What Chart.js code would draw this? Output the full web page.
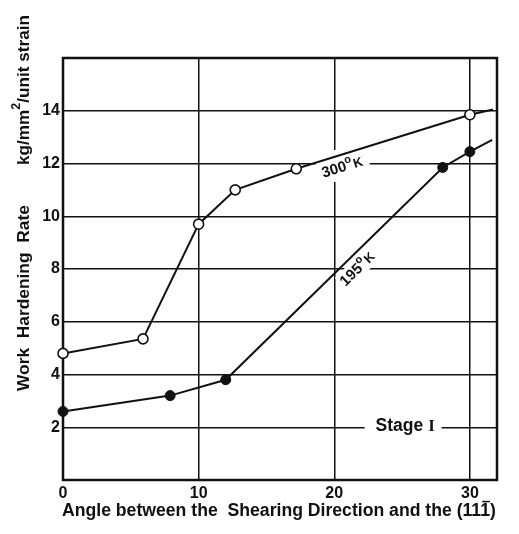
<!DOCTYPE html>
<html>
<head>
<meta charset="utf-8">
<script src="https://cdn.jsdelivr.net/npm/chart.js@4.4.1/dist/chart.umd.min.js"></script>
<style>
  html, body { margin: 0; padding: 0; background: #fff; }
  canvas { display: block; }
</style>
</head>
<body>
<canvas id="hardening-chart" width="519" height="534"></canvas>
<script>
// Work hardening rate against shearing angle, at 300 K and 195 K.
// The last point of each series is only where the line runs out to the frame (no marker).
const angles300 = [0, 5.9, 10, 12.7, 17.2, 30, 31.7];
const rates300 = [4.8, 5.35, 9.7, 11.0, 11.8, 13.85, 14.05];
const angles195 = [0, 7.9, 12, 28, 30, 31.65];
const rates195 = [2.6, 3.2, 3.8, 11.85, 12.45, 12.9];

const xTicks = [0, 10, 20, 30];
const yTicks = [2, 4, 6, 8, 10, 12, 14];

const INK = '#111';
const FONT = '"Liberation Sans", Arial, sans-serif';

// Turn two parallel arrays into {x, y} points
function toPoints(xs, ys) {
    return xs.map((x, i) => ({ x: x, y: ys[i] }));
}

// Hide the marker on the run-out point at the end of a line
function markerRadius(ctx) {
    return ctx.dataIndex === ctx.dataset.data.length - 1 ? 0 : 5;
}

// Pick a font size so the text spans a given width
function fitSize(ctx, text, width, weight) {
    ctx.font = weight + ' 20px ' + FONT;
    return 20 * width / ctx.measureText(text).width;
}

// Pixel angle of the segment between two points of a dataset
function segmentAngle(chart, dsIndex, i) {
    const pts = chart.getDatasetMeta(dsIndex).data;
    return Math.atan2(pts[i + 1].y - pts[i].y, pts[i + 1].x - pts[i].x);
}

// "300°K" style label with a raised small o
function drawTempLabel(ctx, num, cx, cy, angle) {
    const parts = [[num, 15, 0], ['o', 11, -7], ['K', 13, 0]];
    let total = 0;
    parts.forEach(p => {
        ctx.font = 'bold ' + p[1] + 'px ' + FONT;
        p.push(ctx.measureText(p[0]).width);
        total += p[3];
    });
    ctx.save();
    ctx.translate(cx, cy);
    ctx.rotate(angle);
    ctx.fillStyle = INK;
    ctx.textBaseline = 'alphabetic';
    ctx.textAlign = 'left';
    let x = -total / 2;
    parts.forEach(p => {
        ctx.font = 'bold ' + p[1] + 'px ' + FONT;
        ctx.fillText(p[0], x, 5 + p[2]);
        x += p[3] + (p[0] === 'o' ? 1 : 0);
    });
    ctx.restore();
}

// Where the in-plot labels sit, in data units
const label300 = { x: 20.55, y: 11.87 };
const label195 = { x: 21.66, y: 8.0 };
const stageLabel = { x: 23.05, y: 2.0 };

const labelsPlugin = {
    id: 'hardeningLabels',
    // white patches that break the grid behind the labels, then the frame
    beforeDatasetsDraw(chart) {
        const ctx = chart.ctx;
        const sx = chart.scales.x, sy = chart.scales.y;
        ctx.save();
        ctx.fillStyle = '#fff';
        const p3 = { x: sx.getPixelForValue(label300.x), y: sy.getPixelForValue(label300.y) };
        ctx.fillRect(p3.x - 26, p3.y - 17, 54, 32);

        const p1 = { x: sx.getPixelForValue(label195.x), y: sy.getPixelForValue(label195.y) };
        ctx.save();
        ctx.translate(p1.x, p1.y);
        ctx.rotate(segmentAngle(chart, 1, 2));
        ctx.fillRect(-22, -9, 46, 18);
        ctx.restore();

        const ps = { x: sx.getPixelForValue(stageLabel.x), y: sy.getPixelForValue(stageLabel.y) };
        ctx.fillRect(ps.x - 11, ps.y - 4, 77, 8);

        const a = chart.chartArea;
        ctx.strokeStyle = INK;
        ctx.lineWidth = 2.5;
        ctx.strokeRect(a.left, a.top, a.right - a.left, a.bottom - a.top);
        ctx.restore();
    },
    afterDatasetsDraw(chart) {
        const ctx = chart.ctx;
        const sx = chart.scales.x, sy = chart.scales.y;
        drawTempLabel(ctx, '300', sx.getPixelForValue(label300.x), sy.getPixelForValue(label300.y),
            segmentAngle(chart, 0, 4));
        drawTempLabel(ctx, '195', sx.getPixelForValue(label195.x), sy.getPixelForValue(label195.y),
            segmentAngle(chart, 1, 2));

        // Stage I
        const px = sx.getPixelForValue(stageLabel.x), py = sy.getPixelForValue(stageLabel.y);
        ctx.save();
        ctx.fillStyle = INK;
        ctx.textBaseline = 'alphabetic';
        ctx.textAlign = 'left';
        ctx.font = 'bold 17.5px ' + FONT;
        ctx.fillText('Stage', px, py + 4);
        const sw = ctx.measureText('Stage ').width;
        ctx.font = 'bold 17px "Liberation Serif", serif';
        ctx.fillText('I', px + sw, py + 4);
        ctx.restore();
    },
    afterDraw(chart) {
        const ctx = chart.ctx;
        const a = chart.chartArea;
        ctx.save();
        ctx.fillStyle = INK;
        ctx.textBaseline = 'alphabetic';

        // x axis title, last index with an overbar
        const xTitle = 'Angle between the  Shearing Direction and the (111)';
        const xs = fitSize(ctx, xTitle, a.right - a.left, 'bold');
        ctx.font = 'bold ' + xs + 'px ' + FONT;
        ctx.textAlign = 'left';
        const tx = a.left - 1, ty = 516;
        ctx.fillText(xTitle, tx, ty);
        const upTo = ctx.measureText(xTitle.slice(0, -2)).width;
        const oneW = ctx.measureText('1').width;
        ctx.fillRect(tx + upTo + 1, ty - xs * 0.86, oneW - 2, 1.5);

        // y axis title, two parts up the left edge
        ctx.save();
        ctx.translate(29, 0);
        ctx.rotate(-Math.PI / 2);
        const yTitle = 'Work  Hardening  Rate';
        const ys = fitSize(ctx, yTitle, 186, 'bold');
        ctx.font = 'bold ' + ys + 'px ' + FONT;
        ctx.textAlign = 'left';
        ctx.fillText(yTitle, -391, 0);

        // units with a superscript 2
        const u1 = 'kg/mm', u2 = '2', u3 = '/unit strain';
        ctx.font = 'bold 15px ' + FONT;
        const w1 = ctx.measureText(u1).width;
        const w3 = ctx.measureText(u3).width;
        ctx.font = 'bold 11px ' + FONT;
        const w2 = ctx.measureText(u2).width;
        let ux = -165;
        const scale = 150 / (w1 + w2 + w3);
        ctx.font = 'bold ' + (15 * scale) + 'px ' + FONT;
        ctx.fillText(u1, ux, 0);
        ux += w1 * scale;
        ctx.font = 'bold ' + (11 * scale) + 'px ' + FONT;
        ctx.fillText(u2, ux, -9);
        ux += w2 * scale;
        ctx.font = 'bold ' + (15 * scale) + 'px ' + FONT;
        ctx.fillText(u3, ux, 0);
        ctx.restore();

        ctx.restore();
    }
};

const tickFont = { family: FONT, size: 16, weight: 'bold' };

const ctx = document.getElementById('hardening-chart').getContext('2d');
new Chart(ctx, {
    type: 'scatter',
    data: {
        datasets: [
            {
                label: '300 K',
                data: toPoints(angles300, rates300),
                showLine: true,
                clip: false,
                borderColor: INK,
                borderWidth: 2,
                pointRadius: markerRadius,
                pointBackgroundColor: '#fff',
                pointBorderColor: INK,
                pointBorderWidth: 1.6
            },
            {
                label: '195 K',
                data: toPoints(angles195, rates195),
                showLine: true,
                clip: false,
                borderColor: INK,
                borderWidth: 2,
                pointRadius: markerRadius,
                pointBackgroundColor: INK,
                pointBorderColor: INK,
                pointBorderWidth: 1
            }
        ]
    },
    options: {
        responsive: false,
        animation: false,
        layout: { padding: { top: 58, right: 22, left: 0, bottom: 0 } },
        plugins: {
            legend: { display: false },
            tooltip: { enabled: false }
        },
        scales: {
            x: {
                type: 'linear',
                min: 0,
                max: 32,
                afterBuildTicks: s => { s.ticks = xTicks.map(v => ({ value: v })); },
                afterFit: s => { s.height = 54; },
                grid: { color: INK, lineWidth: 1.5, drawTicks: false },
                border: { display: false },
                ticks: { padding: 4, color: INK, font: tickFont, autoSkip: false, maxRotation: 0 }
            },
            y: {
                type: 'linear',
                min: 0,
                max: 16,
                afterBuildTicks: s => { s.ticks = yTicks.map(v => ({ value: v })); },
                afterFit: s => { s.width = 63; },
                grid: { color: INK, lineWidth: 1.5, drawTicks: false },
                border: { display: false },
                ticks: { padding: 3, color: INK, font: tickFont, autoSkip: false }
            }
        }
    },
    plugins: [labelsPlugin]
});
</script>
</body>
</html>
